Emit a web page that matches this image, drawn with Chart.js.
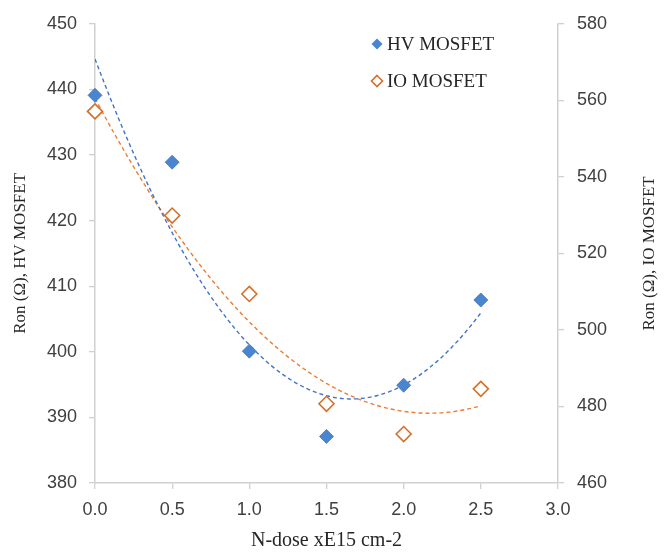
<!DOCTYPE html>
<html>
<head>
<meta charset="utf-8">
<script src="https://cdn.jsdelivr.net/npm/chart.js@4.4.1/dist/chart.umd.min.js"></script>
<style>
  html, body { margin: 0; padding: 0; background: #fff; }
  #wrap { width: 670px; height: 553px; position: relative; }
</style>
</head>
<body>
<div id="wrap"><canvas id="myChart"></canvas></div>
<script>
// values
const doses = [0.0, 0.5, 1.0, 1.5, 2.0, 2.5];
const hvRon = [439.1, 428.9, 400.1, 387.1, 394.9, 407.9];
const ioRon = [557.1, 529.9, 509.4, 480.7, 472.8, 484.6];
const seriesNames = ["HV MOSFET", "IO MOSFET"];

const xRange = [0, 3.0, 0.5];
const hvRange = [380, 450, 10];
const ioRange = [460, 580, 20];

const blue = "#4a85d0";
const blueEdge = "#3f76bf";
const orange = "#d46f2a";
const tickFont = { family: "Liberation Sans", size: 18 };
const serif = "Liberation Serif";

// 2nd-order least squares trendline (like Excel's polynomial trendline)
const polyFit2 = (xs, ys) => {
  let s = [0, 0, 0, 0, 0], t = [0, 0, 0];
  xs.forEach((x, i) => {
    for (let k = 0; k < 5; k++) s[k] += Math.pow(x, k);
    for (let k = 0; k < 3; k++) t[k] += Math.pow(x, k) * ys[i];
  });
  const m = [
    [s[0], s[1], s[2], t[0]],
    [s[1], s[2], s[3], t[1]],
    [s[2], s[3], s[4], t[2]],
  ];
  for (let c = 0; c < 3; c++) {
    for (let r = c + 1; r < 3; r++) {
      const f = m[r][c] / m[c][c];
      for (let k = c; k < 4; k++) m[r][k] -= f * m[c][k];
    }
  }
  const a = [0, 0, 0];
  for (let r = 2; r >= 0; r--) {
    let v = m[r][3];
    for (let k = r + 1; k < 3; k++) v -= m[r][k] * a[k];
    a[r] = v / m[r][r];
  }
  return a;
};

const trendPoints = (xs, ys) => {
  const a = polyFit2(xs, ys);
  const pts = [];
  const x0 = xs[0], x1 = xs[xs.length - 1];
  for (let i = 0; i <= 50; i++) {
    const x = x0 + ((x1 - x0) * i) / 50;
    pts.push({ x, y: a[0] + a[1] * x + a[2] * x * x });
  }
  return pts;
};

const toPoints = (xs, ys) => xs.map((x, i) => ({ x, y: ys[i] }));

// legend inside the plot + right axis title reading bottom-to-top
const extras = {
  id: "extras",
  afterDraw(chart) {
    const ctx = chart.ctx;
    const rows = [
      { y: 44, ds: chart.data.datasets[0] },
      { y: 81, ds: chart.data.datasets[1] },
    ];
    ctx.save();
    rows.forEach((row) => {
      const cx = 377, r = 5.5;
      ctx.beginPath();
      ctx.moveTo(cx, row.y - r);
      ctx.lineTo(cx + r, row.y);
      ctx.lineTo(cx, row.y + r);
      ctx.lineTo(cx - r, row.y);
      ctx.closePath();
      ctx.fillStyle = row.ds.backgroundColor;
      ctx.fill();
      if (row.ds.backgroundColor === "#ffffff") {
        ctx.lineWidth = 1.6;
        ctx.strokeStyle = row.ds.borderColor;
        ctx.stroke();
      }
      ctx.fillStyle = "#262626";
      ctx.font = "19px " + serif;
      ctx.textBaseline = "middle";
      ctx.textAlign = "left";
      ctx.fillText(row.ds.label, 387, row.y + 1);
    });

    const area = chart.chartArea;
    ctx.translate(650, (area.top + area.bottom) / 2);
    ctx.rotate(-Math.PI / 2);
    ctx.textAlign = "center";
    ctx.textBaseline = "middle";
    ctx.font = "17px " + serif;
    ctx.fillStyle = "#262626";
    ctx.fillText("Ron (Ω), IO MOSFET", 0, 0);
    ctx.restore();
  },
};

const axisGrid = {
  drawOnChartArea: false,
  drawTicks: true,
  tickLength: 6,
  color: "#d0d0d0",
  lineWidth: 1.3,
};
const axisBorder = { display: true, color: "#d0d0d0", width: 1.5 };

const ctx = document.getElementById("myChart").getContext("2d");
const myChart = new Chart(ctx, {
  type: "scatter",
  data: {
    datasets: [
      {
        label: seriesNames[0],
        data: toPoints(doses, hvRon),
        yAxisID: "yHV",
        pointStyle: "rectRot",
        pointRadius: 7,
        backgroundColor: blue,
        borderColor: blueEdge,
        borderWidth: 0.8,
        clip: false,
        order: 1,
      },
      {
        label: seriesNames[1],
        data: toPoints(doses, ioRon),
        yAxisID: "yIO",
        pointStyle: "rectRot",
        pointRadius: 7.5,
        backgroundColor: "#ffffff",
        borderColor: orange,
        borderWidth: 1.6,
        clip: false,
        order: 2,
      },
      {
        label: "HV trend",
        data: trendPoints(doses, hvRon),
        yAxisID: "yHV",
        showLine: true,
        pointRadius: 0,
        borderColor: "#4472c4",
        borderWidth: 1.4,
        borderDash: [4, 3],
        order: 3,
      },
      {
        label: "IO trend",
        data: trendPoints(doses, ioRon),
        yAxisID: "yIO",
        showLine: true,
        pointRadius: 0,
        borderColor: "#ed7d31",
        borderWidth: 1.4,
        borderDash: [4, 3],
        order: 4,
      },
    ],
  },
  options: {
    responsive: true,
    maintainAspectRatio: false,
    animation: false,
    layout: { padding: { top: 16, left: 0, right: 0, bottom: 0 } },
    plugins: {
      legend: { display: false },
      tooltip: { enabled: false },
    },
    scales: {
      x: {
        type: "linear",
        min: xRange[0],
        max: xRange[1],
        grid: axisGrid,
        border: axisBorder,
        ticks: {
          stepSize: xRange[2],
          padding: 10,
          color: "#404040",
          font: tickFont,
          callback: (v) => Number(v).toFixed(1),
        },
        title: {
          display: true,
          text: "N-dose xE15 cm-2",
          color: "#262626",
          font: { family: serif, size: 20 },
          padding: { top: 0, bottom: 0 },
        },
        afterFit: (scale) => { scale.height = 70; },
      },
      yHV: {
        type: "linear",
        position: "left",
        min: hvRange[0],
        max: hvRange[1],
        grid: axisGrid,
        border: axisBorder,
        ticks: {
          stepSize: hvRange[2],
          padding: 12,
          color: "#404040",
          font: tickFont,
        },
        title: {
          display: true,
          text: "Ron (Ω), HV MOSFET",
          color: "#262626",
          font: { family: serif, size: 17 },
          padding: { top: 10, bottom: 0 },
        },
        afterFit: (scale) => { scale.width = 95; },
      },
      yIO: {
        type: "linear",
        position: "right",
        min: ioRange[0],
        max: ioRange[1],
        grid: axisGrid,
        border: axisBorder,
        ticks: {
          stepSize: ioRange[2],
          padding: 13,
          color: "#404040",
          font: tickFont,
        },
        afterFit: (scale) => { scale.width = 112; },
      },
    },
  },
  plugins: [extras],
});
</script>
</body>
</html>
